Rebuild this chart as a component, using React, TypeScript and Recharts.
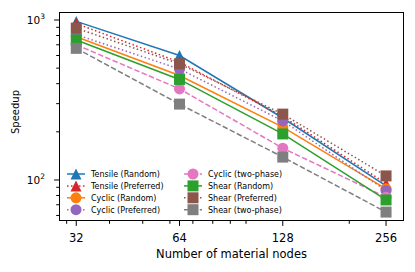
import React from 'react';
import { LineChart, Line, XAxis, YAxis, Label } from 'recharts';

// material node counts (x) and measured speedups per setup
const nodes = [32, 64, 128, 256];
const tensileRandom = [980, 600, 244, 92];
const tensilePreferred = [950, 545, 250, 95];
const cyclicRandom = [785, 450, 214, 88];
const cyclicPreferred = [810, 494, 234, 86];
const cyclicTwoPhase = [700, 371, 158, 78];
const shearRandom = [750, 425, 194, 75];
const shearPreferred = [890, 532, 258, 106];
const shearTwoPhase = [665, 298, 139, 63];

const xMajor = [32, 64, 128, 256];
const xMinor = [30, 40, 50, 60, 70, 80, 90, 100, 200];
const yMajor = [100, 1000];
const yMinor = [60, 70, 80, 90, 200, 300, 400, 500, 600, 700, 800, 900];

type Shape = 'tri' | 'circle' | 'square';

interface Series {
  key: string;
  name: string;
  values: number[];
  color: string;
  shape: Shape;
  dash?: string;
}

const DOTTED = '1.5 2.5';
const DASHED = '5.5 2.4';

const series: Series[] = [
  { key: 'tr', name: 'Tensile (Random)', values: tensileRandom, color: '#1f77b4', shape: 'tri' },
  { key: 'tp', name: 'Tensile (Preferred)', values: tensilePreferred, color: '#d62728', shape: 'tri', dash: DOTTED },
  { key: 'cr', name: 'Cyclic (Random)', values: cyclicRandom, color: '#ff7f0e', shape: 'circle' },
  { key: 'cp', name: 'Cyclic (Preferred)', values: cyclicPreferred, color: '#9467bd', shape: 'circle', dash: DOTTED },
  { key: 'ct', name: 'Cyclic (two-phase)', values: cyclicTwoPhase, color: '#e377c2', shape: 'circle', dash: DASHED },
  { key: 'sr', name: 'Shear (Random)', values: shearRandom, color: '#2ca02c', shape: 'square' },
  { key: 'sp', name: 'Shear (Preferred)', values: shearPreferred, color: '#8c564b', shape: 'square', dash: DOTTED },
  { key: 'st', name: 'Shear (two-phase)', values: shearTwoPhase, color: '#7f7f7f', shape: 'square', dash: DASHED },
];

const data = nodes.map((n, i) => {
  const row: Record<string, number> = { n };
  series.forEach((s) => {
    row[s.key] = s.values[i];
  });
  return row;
});

const FONT = '"DejaVu Sans", sans-serif';
const M = 11; // marker size

const Marker = ({ cx, cy, shape, color }: { cx: number; cy: number; shape: Shape; color: string }) => {
  if (shape === 'circle') return <circle cx={cx} cy={cy} r={M / 2} fill={color} />;
  if (shape === 'square')
    return <rect x={cx - M / 2} y={cy - M / 2} width={M} height={M} fill={color} />;
  const h = M / 2;
  return <polygon points={`${cx},${cy - h} ${cx - h},${cy + h} ${cx + h},${cy + h}`} fill={color} />;
};

const XTick = (props: any) => {
  const { x, y, payload } = props;
  const major = xMajor.includes(payload.value);
  return (
    <g>
      <line x1={x} x2={x} y1={y} y2={y + (major ? 4.9 : 2.8)} stroke="#000" strokeWidth={1} />
      {major && (
        <text x={x} y={y + 21} textAnchor="middle" fontSize={11.5} fontFamily={FONT} fill="#000">
          {payload.value}
        </text>
      )}
    </g>
  );
};

const YTick = (props: any) => {
  const { x, y, payload } = props;
  const major = yMajor.includes(payload.value);
  return (
    <g>
      <line x1={x} x2={x - (major ? 4.9 : 2.8)} y1={y} y2={y} stroke="#000" strokeWidth={1} />
      {major && (
        <text x={45} y={y + 4.5} textAnchor="end" fontSize={10.5} fontFamily={FONT} fill="#000">
          10
          <tspan dy={-5} fontSize={7.5}>
            {Math.round(Math.log10(payload.value))}
          </tspan>
        </text>
      )}
    </g>
  );
};

const LegendBox = () => {
  const cols = [series.slice(0, 4), series.slice(4)];
  const colX = [67, 184];
  return (
    <div style={{ position: 'absolute', left: 0, top: 0, pointerEvents: 'none' }}>
      <svg width={415} height={272}>
        {cols.map((col, ci) =>
          col.map((s, ri) => {
            const x0 = colX[ci];
            const y = 174 + ri * 11.9;
            return (
              <g key={s.key}>
                <line
                  x1={x0}
                  x2={x0 + 18}
                  y1={y}
                  y2={y}
                  stroke={s.color}
                  strokeWidth={1.5}
                  strokeDasharray={s.dash}
                />
                <Marker cx={x0 + 9} cy={y} shape={s.shape} color={s.color} />
                <text x={x0 + 24} y={y + 3} fontSize={8} fontFamily={FONT} fill="#000">
                  {s.name}
                </text>
              </g>
            );
          })
        )}
      </svg>
    </div>
  );
};

export default function App() {
  return (
    <div style={{ position: 'absolute', left: 0, top: 0, width: 415, height: 272, background: '#fff' }}>
      <LineChart
        width={415}
        height={272}
        data={data}
        margin={{ top: 12, right: 11, bottom: 0, left: 0 }}
      >
        <XAxis
          dataKey="n"
          type="number"
          scale="log"
          domain={[28.5, 288.8]}
          allowDataOverflow
          ticks={[...xMajor, ...xMinor]}
          interval={0}
          height={51}
          tickSize={0}
          tickMargin={0}
          axisLine={false}
          tickLine={false}
          tick={XTick}
        >
          <Label
            content={() => (
              <text x={231.5} y={257.5} textAnchor="middle" fontSize={11.5} fontFamily={FONT} fill="#000">
                Number of material nodes
              </text>
            )}
          />
        </XAxis>
        <YAxis
          type="number"
          scale="log"
          domain={[55.4, 1122]}
          allowDataOverflow
          ticks={[...yMinor, ...yMajor]}
          interval={0}
          width={59}
          tickSize={0}
          tickMargin={0}
          axisLine={false}
          tickLine={false}
          tick={YTick}
        >
          <Label
            content={() => (
              <text
                x={15}
                y={112}
                transform="rotate(-90 15 112)"
                textAnchor="middle"
                dominantBaseline="central"
                fontSize={10}
                fontFamily={FONT}
                fill="#000"
              >
                Speedup
              </text>
            )}
          />
        </YAxis>
        {series.map((s) => (
          <Line
            key={s.key}
            dataKey={s.key}
            stroke={s.color}
            strokeWidth={1.5}
            strokeDasharray={s.dash}
            isAnimationActive={false}
            activeDot={false}
            dot={(p: any) => (
              <Marker key={`${s.key}-${p.index}`} cx={p.cx} cy={p.cy} shape={s.shape} color={s.color} />
            )}
          />
        ))}
      </LineChart>
      <div
        style={{
          position: 'absolute',
          left: 59,
          top: 12,
          width: 345,
          height: 209,
          boxSizing: 'border-box',
          border: '1.2px solid #000',
          pointerEvents: 'none',
        }}
      />
      <LegendBox />
    </div>
  );
}
